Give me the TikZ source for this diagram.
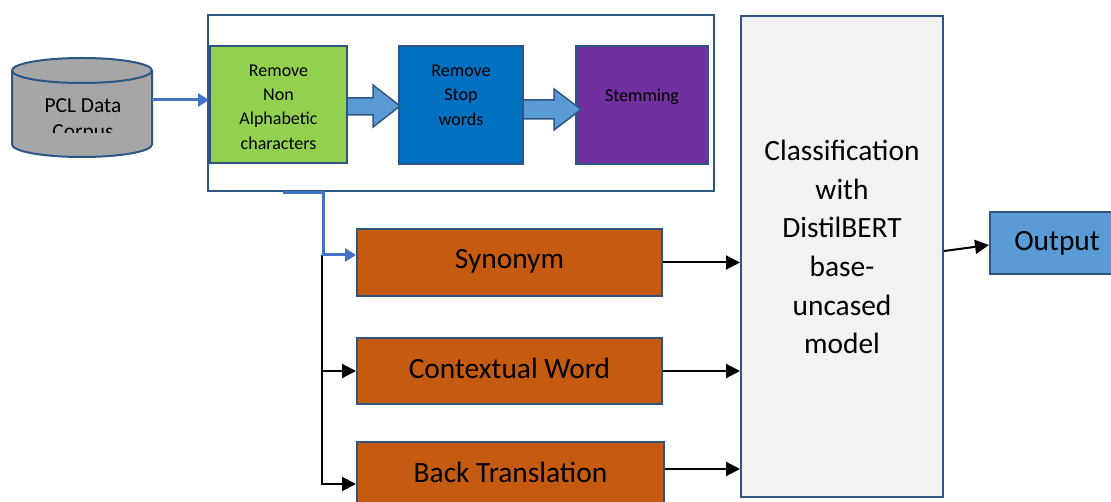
\documentclass[tikz,border=0pt]{standalone}
\usepackage{fontspec}
\setmainfont{Carlito}
\usetikzlibrary{arrows.meta}

\definecolor{edgeblue}{HTML}{2E5584}
\definecolor{linkblue}{HTML}{4472C4}
\definecolor{stepgreen}{HTML}{92D050}
\definecolor{stepblue}{HTML}{0070C0}
\definecolor{steppurple}{HTML}{7030A0}
\definecolor{augorange}{HTML}{C55A11}
\definecolor{modelgray}{HTML}{F2F2F2}
\definecolor{outblue}{HTML}{5B9BD5}
\definecolor{arrowfill}{HTML}{5B9BD5}
\definecolor{corpusgray}{HTML}{A6A6A6}

\tikzset{
  box/.style={draw=edgeblue,line width=2pt,rectangle,inner sep=0pt},
  smalltxt/.style={align=center,inner sep=0pt,font=\fontsize{18}{24.4}\selectfont},
  bigtxt/.style={align=center,inner sep=0pt,font=\fontsize{29.4}{38.6}\selectfont},
  blueconn/.style={draw=linkblue,line width=3pt,-{Triangle[length=11pt,width=13pt]}},
  blackconn/.style={draw=black,line width=2pt,-{Triangle[length=14pt,width=14pt]}},
  blockarr/.style={draw=edgeblue,line width=1.5pt,fill=arrowfill,line join=miter},
}

\begin{document}
\begin{tikzpicture}[x=1pt,y=-1pt]
\clip (0,0) rectangle (1111,502);
% data source
\node[rectangle,minimum width=140pt,minimum height=99pt,inner sep=0pt,name=corpus] at (82,107.5) {};
\draw[draw=edgeblue,line width=2pt,fill=corpusgray]
  (12,70.5) -- (12,144.5) arc[start angle=180,end angle=0,x radius=70,y radius=12.5]
  -- (152,70.5) arc[start angle=0,end angle=-180,x radius=70,y radius=12.5] -- cycle;
\draw[draw=edgeblue,line width=2pt] (12,70.5) arc[start angle=180,end angle=0,x radius=70,y radius=12.5];
\begin{scope}
\clip (10,84) rectangle (154,133);
\node[align=center,inner sep=0pt,font=\fontsize{21.4}{26}\selectfont,name=corpustxt] at (83,120) {PCL Data\\Corpus};
\end{scope}
% preprocessing
\node[box,minimum width=506pt,minimum height=176pt,name=prep] at (460.5,103) {};
\node[box,fill=stepgreen,minimum width=137pt,minimum height=117pt,name=nonalpha] at (278.5,104.5) {};
\node[box,fill=stepblue,minimum width=124pt,minimum height=118pt,name=stopw] at (461,105) {};
\node[box,fill=steppurple,minimum width=132pt,minimum height=118pt,name=stem] at (642,105) {};
\node[smalltxt,name=nonalphatxt] at (278.5,107) {Remove\\Non\\Alphabetic\\characters};
\node[smalltxt,name=stopwtxt] at (461,95) {Remove\\Stop\\words};
\node[smalltxt,name=stemtxt] at (642,97) {Stemming};
\draw[blockarr] (347,98) -- (373,98) -- (373,85) -- (400,106) -- (373,127) -- (373,115) -- (347,115) -- cycle;
\draw[blockarr] (523,100) -- (554,100) -- (554,89) -- (581,109.5) -- (554,130) -- (554,119) -- (523,119) -- cycle;
% augmentation
\node[box,fill=augorange,minimum width=305pt,minimum height=67pt,name=syn] at (509.5,262.5) {};
\node[box,fill=augorange,minimum width=305pt,minimum height=66pt,name=ctx] at (509.5,371) {};
\node[box,fill=augorange,minimum width=307pt,minimum height=66pt,name=back] at (510.5,475) {};
\node[bigtxt,name=syntxt] at (509.5,261) {Synonym};
\node[bigtxt,name=ctxtxt] at (509.5,368) {Contextual Word};
\node[bigtxt,name=backtxt] at (510.5,472) {Back Translation};
% model and output
\node[box,fill=modelgray,minimum width=202pt,minimum height=481pt,name=model] at (842,256.5) {};
\node[bigtxt,name=modeltxt] at (842,247) {Classification\\with\\DistilBERT\\base-\\uncased\\model};
\node[box,fill=outblue,minimum width=134pt,minimum height=62pt,name=out] at (1057,243) {};
\node[bigtxt,name=outtxt] at (1057,243) {Output};
% connectors
\coordinate (split) at (283,193);
\coordinate (forktop) at (322,255);
\coordinate (backout) at ([yshift=6pt]back.east);
\draw[blueconn] ([yshift=7.5pt]corpus.east) -- ([yshift=4.5pt]nonalpha.west);
\draw[blackconn] (forktop) |- ([yshift=-9pt]back.west);
\draw[blackconn] (forktop |- ctx.west) -- (ctx.west);
\draw[blueconn] (split) -- (323,193) |- ([yshift=7.5pt]syn.west);
\draw[blackconn] (syn.east) -- (syn.east -| model.west);
\draw[blackconn] (ctx.east) -- (ctx.east -| model.west);
\draw[blackconn] (backout) -- (backout -| model.west);
\draw[blackconn] ([yshift=5.5pt]model.east) -- ([yshift=-2pt]out.west);
\end{tikzpicture}
\end{document}
